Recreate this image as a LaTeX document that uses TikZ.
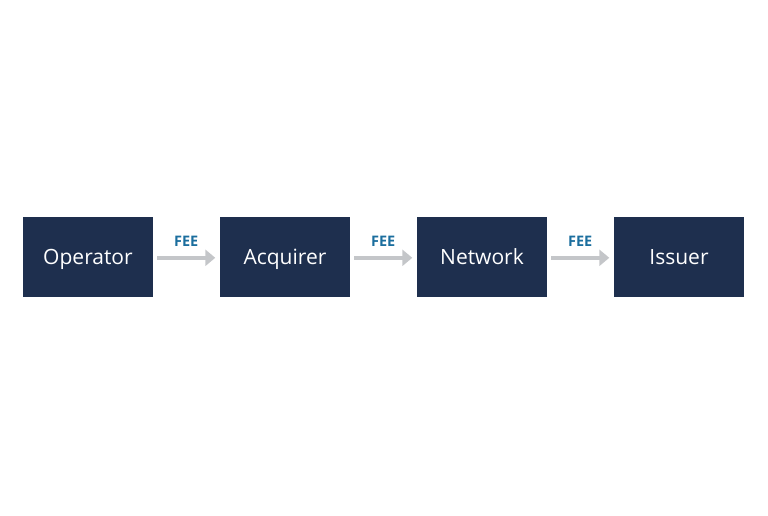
\documentclass[tikz,border=0pt]{standalone}
\usepackage{fontspec}
\setmainfont{Open Sans}
\usetikzlibrary{arrows.meta}
\definecolor{boxfill}{HTML}{1E2F4E}
\definecolor{feeblue}{HTML}{1B6E9E}
\definecolor{arrgray}{HTML}{C4C6C9}
\tikzset{
  entity/.style={draw=none, fill=boxfill, minimum width=130pt, minimum height=80pt, inner sep=0pt, text=white, font=\fontsize{21}{24}\selectfont, text height=15pt, text depth=0pt},
  flow/.style={draw=arrgray, line width=3.5pt, -{Triangle[length=10pt,width=16pt]}},
  feelabel/.style={text=feeblue, font=\fontsize{14.5}{16}\selectfont\bfseries, inner sep=0pt, text height=10pt, text depth=0pt}
}
\begin{document}
\begin{tikzpicture}[x=1pt,y=-1pt]
\useasboundingbox (0,0) rectangle (768,515);
\node[entity] (op) at (88,257.3) {Operator};
\node[entity] (ac) at (285,257.3) {Acquirer};
\node[entity] (nw) at (482,257.3) {Network};
\node[entity] (is) at (679,257.3) {Issuer};
\draw[flow] ([xshift=4pt,yshift=-0.5pt]op.east) -- ([xshift=-4.5pt,yshift=-0.5pt]ac.west) node[midway, feelabel, yshift=16pt] (f1) {FEE};
\draw[flow] ([xshift=4pt,yshift=-0.5pt]ac.east) -- ([xshift=-4.5pt,yshift=-0.5pt]nw.west) node[midway, feelabel, yshift=16pt] (f2) {FEE};
\draw[flow] ([xshift=4pt,yshift=-0.5pt]nw.east) -- ([xshift=-4.5pt,yshift=-0.5pt]is.west) node[midway, feelabel, yshift=16pt] (f3) {FEE};
\end{tikzpicture}
\end{document}
